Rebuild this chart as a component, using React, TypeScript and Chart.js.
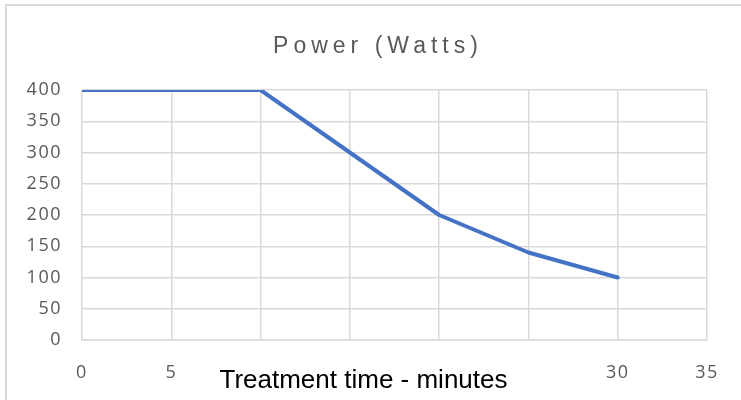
import React, { useEffect, useRef } from "react";
import { Chart, registerables } from "chart.js";

Chart.register(...registerables);

const chartTitle = "Power (Watts)";
const xAxisTitle = "Treatment time - minutes";
const timeMinutes = [0, 5, 10, 15, 20, 25, 30];
const powerWatts = [400, 400, 400, 300, 200, 140, 100];
const shownXTicks = [0, 5, 30, 35];

const titlesPlugin = {
  id: "titlesPlugin",
  beforeDraw(chart: any) {
    (chart.ctx as any).letterSpacing = "1.5px";
  },
  beforeDatasetsDraw(chart: any) {
    (chart.ctx as any).letterSpacing = "0px";
  },
  afterDraw(chart: any) {
    const ctx = chart.ctx;
    ctx.save();
    ctx.textAlign = "center";
    ctx.textBaseline = "alphabetic";
    ctx.font = "23px 'Liberation Sans', Arial, sans-serif";
    ctx.fillStyle = "#595959";
    (ctx as any).letterSpacing = "5px";
    ctx.fillText(chartTitle, 378, 53);
    (ctx as any).letterSpacing = "0px";
    ctx.font = "26px 'Liberation Sans', Arial, sans-serif";
    ctx.fillStyle = "#000000";
    ctx.fillText(xAxisTitle, 363.5, 388);
    ctx.restore();
  },
};

export default function App() {
  const ref = useRef<HTMLCanvasElement>(null);
  useEffect(() => {
    const canvas = ref.current!;
    const chart = new Chart(canvas, {
      type: "line",
      data: {
        datasets: [
          {
            label: chartTitle,
            data: timeMinutes.map((t, i) => ({ x: t, y: powerWatts[i] })),
            borderColor: "#4472c4",
            backgroundColor: "#4472c4",
            borderWidth: 4,
            pointRadius: 0,
            borderJoinStyle: "round",
            borderCapStyle: "round",
            tension: 0,
          },
        ],
      },
      options: {
        animation: false,
        responsive: false,
        maintainAspectRatio: false,
        layout: { padding: { top: 90, left: 0, right: 34, bottom: 0 } },
        plugins: {
          legend: { display: false },
          title: { display: false },
          tooltip: { enabled: false },
        },
        scales: {
          x: {
            type: "linear",
            min: 0,
            max: 35,
            afterFit: (s: any) => {
              s.height = 60;
            },
            ticks: {
              stepSize: 5,
              autoSkip: false,
              maxRotation: 0,
              padding: 22,
              color: "#595959",
              font: { family: "'Open Sans', sans-serif", size: 18 },
              callback: (v: any) => (shownXTicks.includes(Number(v)) ? String(v) : ""),
            },
            grid: { color: "#d9d9d9", lineWidth: 1.5, drawTicks: false },
            border: { color: "#d9d9d9", width: 1.5 },
          },
          y: {
            min: 0,
            max: 400,
            afterFit: (s: any) => {
              s.width = 82;
            },
            ticks: {
              stepSize: 50,
              padding: 20,
              color: "#595959",
              font: { family: "'Open Sans', sans-serif", size: 18 },
            },
            grid: { color: "#d9d9d9", lineWidth: 1.5, drawTicks: false },
            border: { display: false },
          },
        },
      },
      plugins: [titlesPlugin],
    } as any);
    return () => chart.destroy();
  }, []);

  return (
    <div style={{ position: "fixed", left: 0, top: 0, width: 741, height: 400, background: "#fff" }}>
      <div
        style={{
          position: "absolute",
          left: 5,
          top: 4,
          width: 740,
          height: 400,
          borderLeft: "2px solid #d9d9d9",
          borderTop: "2px solid #d9d9d9",
        }}
      />
      <canvas ref={ref} width={741} height={400} style={{ position: "absolute", left: 0, top: 0, width: 741, height: 400 }} />
    </div>
  );
}
